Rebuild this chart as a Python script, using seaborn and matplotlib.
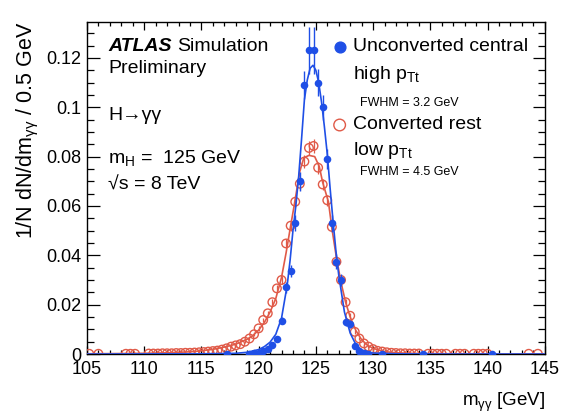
import numpy as np
import pandas as pd
import matplotlib
matplotlib.use("Agg")
import matplotlib.pyplot as plt
import seaborn as sns
from matplotlib.ticker import MultipleLocator, FuncFormatter

# ---------------- data ----------------
blue_x = [117.2, 119.2, 119.6, 120.0, 120.4, 120.8, 121.2, 121.6, 122.0, 122.4,
          122.8, 123.2, 123.6, 124.0, 124.4, 124.8, 125.2, 125.6, 126.0, 126.4,
          126.8, 127.2, 127.6, 128.0, 128.4, 128.8, 129.2, 129.6, 130.8, 134.4, 140.4]
blue_y = [0.0001, 0.0002, 0.0003, 0.0005, 0.0012, 0.002, 0.0035, 0.006, 0.0135, 0.027,
          0.0337, 0.053, 0.070, 0.109, 0.123, 0.123, 0.110, 0.100, 0.079, 0.053,
          0.0374, 0.030, 0.013, 0.0122, 0.0034, 0.0013, 0.0004, 0.0002, 0.0001, 0.0001, 0.0001]
blue_err = [0.0001, 0.0001, 0.0002, 0.0002, 0.0004, 0.0005, 0.0007, 0.001, 0.0015, 0.0022,
            0.0025, 0.0032, 0.0038, 0.0055, 0.0095, 0.0095, 0.0055, 0.005, 0.0042, 0.0035,
            0.003, 0.0026, 0.0017, 0.0017, 0.0009, 0.0005, 0.0002, 0.0002, 0.0001, 0.0001, 0.0001]

red_x = [105.2, 106.0, 108.4, 108.8, 109.2,
         110.4, 110.8, 111.2, 111.6, 112.0, 112.4, 112.8, 113.2, 113.6, 114.0, 114.4, 114.8, 115.2, 115.6, 116.0,
         116.4, 116.8, 117.2, 117.6, 118.0, 118.4, 118.8, 119.2, 119.6, 120.0,
         120.4, 120.8, 121.2, 121.6, 122.0, 122.4, 122.8, 123.2, 123.6, 124.0,
         124.4, 124.8, 125.2, 125.6, 126.0, 126.4, 126.8, 127.2, 127.6, 128.0,
         128.4, 128.8, 129.2, 129.6, 130.0, 130.4, 130.8, 131.2, 131.6, 132.0,
         132.4, 132.8, 133.2, 133.6, 134.0, 134.8, 135.2, 135.6, 136.0, 136.4,
         137.2, 137.6, 138.0, 138.8, 139.2, 139.6, 140.0, 143.6, 144.4]
red_y = [0.0001, 0.0001, 0.0001, 0.0001, 0.0001,
         0.0002, 0.0002, 0.0002, 0.0003, 0.0003, 0.0003, 0.0004, 0.0004, 0.0005, 0.0005, 0.0006, 0.0007, 0.0008, 0.0010, 0.0012,
         0.0014, 0.0018, 0.0023, 0.0030, 0.0035, 0.0040, 0.0050, 0.0063, 0.0080, 0.0104,
         0.0138, 0.0165, 0.0210, 0.0266, 0.0300, 0.0448, 0.0520, 0.0617, 0.0690, 0.0780,
         0.0835, 0.0843, 0.0755, 0.0687, 0.0623, 0.0515, 0.0374, 0.0300, 0.0210, 0.0155,
         0.0090, 0.0063, 0.0043, 0.0030, 0.0020, 0.0013, 0.0010, 0.0007, 0.0005, 0.0004,
         0.0003, 0.0003, 0.0002, 0.0002, 0.0002, 0.0001, 0.0001, 0.0001, 0.0001, 0.0001,
         0.0001, 0.0001, 0.0001, 0.0001, 0.0001, 0.0001, 0.0001, 0.0001, 0.0001]
red_err = [0.0001, 0.0001, 0.0001, 0.0001, 0.0001,
           0.0001, 0.0001, 0.0001, 0.0001, 0.0001, 0.0001, 0.0001, 0.0001, 0.0002, 0.0002, 0.0002, 0.0002, 0.0002, 0.0002, 0.0002,
           0.0003, 0.0003, 0.0004, 0.0005, 0.0005, 0.0005, 0.0006, 0.0007, 0.0008, 0.0009,
           0.0010, 0.0011, 0.0013, 0.0014, 0.0015, 0.0018, 0.0020, 0.0022, 0.0024, 0.0026,
           0.0027, 0.0027, 0.0025, 0.0024, 0.0022, 0.0020, 0.0017, 0.0015, 0.0012, 0.0010,
           0.0008, 0.0007, 0.0006, 0.0005, 0.0004, 0.0003, 0.0003, 0.0002, 0.0002, 0.0002,
           0.0001, 0.0001, 0.0001, 0.0001, 0.0001, 0.0001, 0.0001, 0.0001, 0.0001, 0.0001,
           0.0001, 0.0001, 0.0001, 0.0001, 0.0001, 0.0001, 0.0001, 0.0001, 0.0001]

blue_fit_x = [105, 115, 117, 118, 119, 120, 120.5, 121, 121.5, 122, 122.5, 122.75, 123, 123.25,
              123.5, 123.75, 124, 124.25, 124.5, 124.75, 125, 125.25, 125.5, 125.75, 126, 126.25,
              126.5, 126.75, 127, 127.5, 128, 128.5, 129, 130, 132, 135, 145]
blue_fit_y = [0.0, 0.0001, 0.0002, 0.0003, 0.0007, 0.0018, 0.003, 0.0048, 0.008, 0.0145, 0.028, 0.038,
              0.050, 0.060, 0.072, 0.087, 0.103, 0.111, 0.1158, 0.117, 0.115, 0.110, 0.102, 0.092,
              0.081, 0.067, 0.054, 0.042, 0.032, 0.017, 0.0085, 0.0038, 0.0016, 0.0004, 0.0001, 0.0, 0.0]

red_fit_x = [105, 108, 110, 112, 114, 115, 116, 117, 118, 119, 119.5, 120, 120.5, 121, 121.5, 122,
             122.4, 122.8, 123.1, 123.4, 123.6, 123.95, 124.4, 124.9, 125.3, 125.6, 126.1, 126.4,
             126.8, 127.2, 127.6, 128, 128.5, 129, 129.5, 130, 131, 132, 134, 137, 141, 145]
red_fit_y = [0.0001, 0.0002, 0.0003, 0.0005, 0.0009, 0.0013, 0.0019, 0.0028, 0.004, 0.006, 0.0075,
             0.0097, 0.0128, 0.017, 0.0225, 0.031, 0.041, 0.052, 0.060, 0.0684, 0.074, 0.0795,
             0.0805, 0.080, 0.076, 0.0695, 0.0617, 0.051, 0.039, 0.029, 0.021, 0.015, 0.0095,
             0.0058, 0.0036, 0.0023, 0.001, 0.0005, 0.0002, 0.0001, 0.0, 0.0]

y_ticks = [0, 0.02, 0.04, 0.06, 0.08, 0.1, 0.12]
x_ticks = [105, 110, 115, 120, 125, 130, 135, 140, 145]

BLUE = "#1f4fe6"
RED = "#e05a48"

# ---------------- style ----------------
sns.set_theme(style="white")
plt.rcParams['font.family'] = ['Liberation Sans', 'DejaVu Sans']
plt.rcParams['mathtext.fontset'] = 'custom'
plt.rcParams['mathtext.rm'] = 'Liberation Sans'
plt.rcParams['mathtext.it'] = 'Liberation Sans'
plt.rcParams['mathtext.bf'] = 'Liberation Sans:bold'
plt.rcParams['mathtext.default'] = 'rm'
plt.rcParams['text.color'] = 'black'
plt.rcParams['axes.labelcolor'] = 'black'

fig = plt.figure(figsize=(5.61, 4.17), dpi=100)
ax = fig.add_axes([0.155, 0.151, 0.816, 0.796])

blue_df = pd.DataFrame({"m": blue_x, "v": blue_y, "e": blue_err})
red_df = pd.DataFrame({"m": red_x, "v": red_y, "e": red_err})
bfit = pd.DataFrame({"m": blue_fit_x, "v": blue_fit_y})
rfit = pd.DataFrame({"m": red_fit_x, "v": red_fit_y})

# red (converted)
ax.errorbar(red_df["m"], red_df["v"], yerr=red_df["e"], fmt="none", ecolor=RED, elinewidth=0.9, zorder=2)
sns.scatterplot(data=red_df, x="m", y="v", ax=ax, marker="o", s=38, facecolor="none",
                edgecolor=RED, linewidth=1.0, zorder=3)
sns.lineplot(data=rfit, x="m", y="v", ax=ax, color=RED, linewidth=1.2, sort=False,
             estimator=None, zorder=4)

# blue (unconverted)
ax.errorbar(blue_df["m"], blue_df["v"], yerr=blue_df["e"], fmt="none", ecolor=BLUE, elinewidth=1.0, zorder=5)
sns.scatterplot(data=blue_df, x="m", y="v", ax=ax, marker="o", s=30, color=BLUE,
                edgecolor=BLUE, linewidth=0, zorder=6)
sns.lineplot(data=bfit, x="m", y="v", ax=ax, color=BLUE, linewidth=1.2, sort=False,
             estimator=None, zorder=7)

ax.set_xlim(105, 145)
ax.set_ylim(0, 0.1345)
ax.set_xticks(x_ticks)
ax.set_yticks(y_ticks)
ax.xaxis.set_minor_locator(MultipleLocator(1))
ax.yaxis.set_minor_locator(MultipleLocator(0.005))
ax.yaxis.set_major_formatter(FuncFormatter(lambda v, p: "0" if v == 0 else ("%g" % v)))

ax.tick_params(which="both", direction="in", top=True, right=True, bottom=True, left=True,
               color="black", width=0.9, labelsize=13, labelcolor="black")
ax.tick_params(axis="x", which="major", length=6, pad=5)
ax.tick_params(axis="x", which="minor", length=3)
ax.tick_params(axis="y", which="major", length=9, pad=4)
ax.tick_params(axis="y", which="minor", length=5)
for sp in ax.spines.values():
    sp.set_color("black")
    sp.set_linewidth(1.0)

ax.set_xlabel(r"m$_{\gamma\gamma}$ [GeV]", fontsize=13.5, loc="right", labelpad=9)
ax.set_ylabel(r"1/N dN/dm$_{\gamma\gamma}$ / 0.5 GeV", fontsize=15.5, loc="top", labelpad=4)

# ---------------- annotations ----------------
fs = 14
tx = 0.046
ax.text(tx, 0.925, "ATLAS", transform=ax.transAxes, fontsize=fs, fontweight="bold",
        fontstyle="italic", va="center", ha="left")
ax.text(tx + 0.152, 0.925, "Simulation", transform=ax.transAxes, fontsize=fs, va="center", ha="left")
ax.text(tx, 0.861, "Preliminary", transform=ax.transAxes, fontsize=fs, va="center", ha="left")
ax.text(tx, 0.72, "H\u2192\u03b3\u03b3", transform=ax.transAxes, fontsize=fs, va="center", ha="left")
ax.text(tx, 0.59, r"m$_{\rm H}$ =  125 GeV", transform=ax.transAxes, fontsize=fs, va="center", ha="left")
ax.text(tx, 0.509, "\u221as = 8 TeV", transform=ax.transAxes, fontsize=fs, va="center", ha="left")

lx = 0.552
ax.scatter([lx], [0.925], transform=ax.transAxes, s=60, color=BLUE, zorder=8, clip_on=False)
ax.scatter([lx], [0.69], transform=ax.transAxes, s=70, facecolor="none", edgecolor=RED,
           linewidth=1.0, zorder=8, clip_on=False)
ax.text(0.581, 0.925, "Unconverted central", transform=ax.transAxes, fontsize=fs, va="center", ha="left")
ax.text(0.581, 0.843, r"high p$_{\rm Tt}$", transform=ax.transAxes, fontsize=fs, va="center", ha="left")
ax.text(0.596, 0.756, "FWHM = 3.2 GeV", transform=ax.transAxes, fontsize=9, va="center", ha="left")
ax.text(0.581, 0.69, "Converted rest", transform=ax.transAxes, fontsize=fs, va="center", ha="left")
ax.text(0.581, 0.614, r"low p$_{\rm Tt}$", transform=ax.transAxes, fontsize=fs, va="center", ha="left")
ax.text(0.596, 0.548, "FWHM = 4.5 GeV", transform=ax.transAxes, fontsize=9, va="center", ha="left")

fig.savefig("out.png", dpi=100, facecolor="white")
